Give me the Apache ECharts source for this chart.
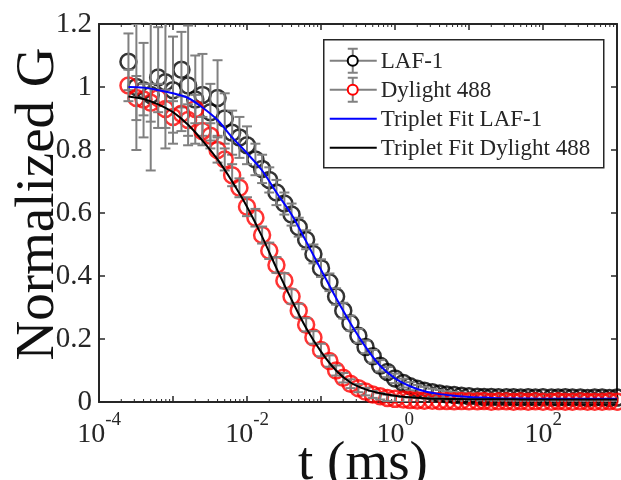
<!DOCTYPE html>
<html><head><meta charset="utf-8">
<script src="https://cdn.jsdelivr.net/npm/echarts@6/dist/echarts.min.js"></script>
<style>html,body{margin:0;padding:0;background:#fff}#c{width:621px;height:480px}</style>
</head><body><div id="c"></div>
<script>
// lag times (ms)
const times = [2.5e-4,3.2e-4,4.0e-4,5.0e-4,6.3e-4,7.9e-4,
 1.0e-3,1.3e-3,1.6e-3,2.0e-3,2.5e-3,3.2e-3,4.0e-3,5.0e-3,6.3e-3,7.9e-3,
 0.010,0.013,0.016,0.020,0.025,0.032,0.040,0.050,0.063,0.079,
 0.10,0.13,0.16,0.20,0.25,0.32,0.40,0.50,0.63,0.79,
 1.0,1.3,1.6,2.0,2.5,3.2,4.0,5.0,6.3,7.9,
 10,13,16,20,25,32,40,50,63,79,
 100,130,160,200,250,320,400,500,630,790,
 1000];
// LAF-1 normalized G and error
const lafG = [1.08,1.00,0.99,0.975,1.03,1.015,
 0.99,1.055,1.005,0.96,0.975,0.92,0.965,0.90,0.855,0.84,
 0.815,0.77,0.74,0.705,0.665,0.63,0.595,0.555,0.515,0.47,
 0.425,0.38,0.335,0.29,0.25,0.21,0.175,0.145,0.115,0.095,
 0.075,0.06,0.05,0.042,0.036,0.031,0.027,0.024,0.022,0.02,
 0.018,0.017,0.016,0.016,0.015,0.015,0.015,0.014,0.015,0.014,
 0.015,0.014,0.014,0.015,0.014,0.014,0.013,0.014,0.014,0.013,
 0.014];
const lafErr = [0.09,0.2,0.15,0.24,0.16,0.21,
 0.17,0.12,0.19,0.14,0.13,0.09,0.12,0.08,0.07,0.065,
 0.06,0.05,0.045,0.04,0.04,0.035,0.035,0.03,0.03,0.03,
 0.028,0.028,0.026,0.025,0.024,0.022,0.02,0.02,0.018,0.016,
 0.015,0.014,0.013,0.012,0.012,0.011,0.011,0.01,0.01,0.01,
 0.01,0.01,0.01,0.01,0.01,0.01,0.01,0.01,0.01,0.01,
 0.01,0.01,0.01,0.01,0.01,0.01,0.01,0.01,0.01,0.01,
 0.01];
// Dylight 488 normalized G and error
const dyG = [1.005,0.965,0.96,0.95,0.965,0.93,
 0.905,0.915,0.895,0.93,0.86,0.845,0.80,0.77,0.72,0.68,
 0.62,0.585,0.53,0.48,0.435,0.385,0.335,0.29,0.245,0.205,
 0.165,0.13,0.10,0.077,0.058,0.044,0.033,0.024,0.018,0.013,
 0.01,0.008,0.006,0.005,0.004,0.004,0.003,0.003,0.002,0.003,
 0.002,0.002,0.003,0.001,0.002,0.002,0.001,0.002,0.001,0.002,
 0.001,0.001,0.002,0.001,0.001,0.002,0.001,0.001,0.001,0.002,
 0.001];
const dyErr = [0.05,0.07,0.05,0.06,0.045,0.06,
 0.05,0.055,0.05,0.045,0.045,0.04,0.04,0.035,0.035,0.03,
 0.03,0.028,0.027,0.026,0.025,0.024,0.023,0.022,0.021,0.02,
 0.02,0.018,0.016,0.015,0.014,0.013,0.012,0.011,0.01,0.01,
 0.01,0.008,0.008,0.008,0.008,0.008,0.008,0.008,0.008,0.008,
 0.008,0.008,0.008,0.008,0.008,0.008,0.008,0.008,0.008,0.008,
 0.008,0.008,0.008,0.008,0.008,0.008,0.008,0.008,0.008,0.008,
 0.008];
// fit curves
const fitT = [2.5e-4,4.0e-4,6.3e-4,1.0e-3,1.6e-3,2.5e-3,4.0e-3,6.3e-3,0.010,0.016,
 0.025,0.040,0.063,0.10,0.16,0.25,0.40,0.63,1.0,1.6,2.5,4.0,6.3,10,16,25,40,63,100,160,250,400,630,1000];
const fitLaf = [1.0,0.998,0.99,0.98,0.965,0.935,0.895,0.84,0.79,0.735,
 0.665,0.595,0.51,0.42,0.33,0.25,0.175,0.115,0.075,0.05,0.034,0.025,0.02,0.016,0.014,0.012,0.011,0.011,0.01,0.01,0.01,0.01,0.01,0.01];
const fitDy = [0.97,0.962,0.945,0.92,0.88,0.83,0.77,0.70,0.62,0.525,
 0.425,0.325,0.235,0.16,0.10,0.062,0.04,0.028,0.02,0.015,0.012,0.01,0.0095,0.009,0.009,0.0085,0.0085,0.008,0.008,0.008,0.008,0.008,0.008,0.008];
const xLabelExps = [-4,-2,0,2];

const FONT = 'Liberation Serif';
const AX = '#262626';
const GRAY = '#808080';
const LFONT = '23px "Liberation Serif"';

const minorTicks = [];
for (let e = -4; e < 3; e++) for (let m = 2; m <= 9; m++) minorTicks.push([m * Math.pow(10, e), 0]);

function errRender(params, api) {
  const t = api.value(0), g = api.value(1), e = api.value(2);
  const lo = api.coord([t, g - e]), hi = api.coord([t, g + e]);
  const cw = 5, st = {stroke: GRAY, lineWidth: 2};
  return {type: 'group', children: [
    {type: 'line', shape: {x1: lo[0], y1: lo[1], x2: hi[0], y2: hi[1]}, style: st},
    {type: 'line', shape: {x1: lo[0] - cw, y1: lo[1], x2: lo[0] + cw, y2: lo[1]}, style: st},
    {type: 'line', shape: {x1: hi[0] - cw, y1: hi[1], x2: hi[0] + cw, y2: hi[1]}, style: st}
  ]};
}
function minorRender(params, api) {
  const t = api.value(0);
  const b = api.coord([t, 0]), tp = api.coord([t, 1.2]);
  const st = {stroke: AX, lineWidth: 1};
  return {type: 'group', children: [
    {type: 'line', shape: {x1: b[0], y1: b[1], x2: b[0], y2: b[1] - 3}, style: st},
    {type: 'line', shape: {x1: tp[0], y1: tp[1], x2: tp[0], y2: tp[1] + 3}, style: st}
  ]};
}
const zip3 = (a, b, c) => a.map((v, i) => [v, b[i], c[i]]);
const zip2 = (a, b) => a.map((v, i) => [v, b[i]]);

const axisCommon = {
  axisLine: {show: true, onZero: false, lineStyle: {color: AX, width: 2}},
  axisTick: {show: true, inside: true, length: 6, lineStyle: {color: AX, width: 1.5}},
  splitLine: {show: false}
};

const chart = echarts.init(document.getElementById('c'));
chart.setOption({
  animation: false,
  backgroundColor: '#fff',
  grid: {left: 99, right: 4, top: 24, bottom: 78, containLabel: false, outerBoundsMode: 'none'},
  xAxis: [
    Object.assign({
      type: 'log', logBase: 10, min: 1e-4, max: 1e3, position: 'bottom',
      name: 't (ms)', nameLocation: 'middle', nameGap: 35, nameMoveOverlap: false,
      nameTextStyle: {fontFamily: FONT, fontSize: 55, color: '#111', padding: [0, 0, 0, 10]},
      axisLabel: {
        margin: 9, color: AX,
        formatter: v => {
          const e = Math.round(Math.log10(v));
          return xLabelExps.indexOf(e) >= 0 ? '{sp| }{b|10}{s|' + e + '}' : '';
        },
        rich: {
          sp: {fontSize: 1, lineHeight: 38},
          b: {fontFamily: FONT, fontSize: 28, lineHeight: 28, verticalAlign: 'bottom', color: AX},
          s: {fontFamily: FONT, fontSize: 19, lineHeight: 19, verticalAlign: 'top', color: AX}
        }
      }
    }, axisCommon),
    Object.assign({
      type: 'log', logBase: 10, min: 1e-4, max: 1e3, position: 'top',
      axisLabel: {show: false}
    }, axisCommon)
  ],
  yAxis: [
    Object.assign({
      type: 'value', min: 0, max: 1.2, interval: 0.2, position: 'left',
      name: 'Normalized G', nameLocation: 'middle', nameGap: 33, nameMoveOverlap: false,
      nameTextStyle: {fontFamily: FONT, fontSize: 55, color: '#111', padding: [0, 0, 0, 18]},
      axisLabel: {margin: 7, fontFamily: FONT, fontSize: 29, color: AX,
        formatter: v => String(+v.toFixed(1))}
    }, axisCommon),
    Object.assign({
      type: 'value', min: 0, max: 1.2, interval: 0.2, position: 'right',
      axisLabel: {show: false}
    }, axisCommon)
  ],
  series: [
    {type: 'custom', name: 'minor', renderItem: minorRender, data: minorTicks, silent: true, clip: false, z: 1},
    {type: 'scatter', name: 'LAF-1', data: zip2(times, lafG), symbol: 'circle', symbolSize: 16,
      itemStyle: {color: 'rgba(0,0,0,0)', borderColor: '#000', borderWidth: 2.5}, z: 2},
    {type: 'custom', name: 'LAF-1 err', renderItem: errRender, data: zip3(times, lafG, lafErr), clip: true, z: 3},
    {type: 'scatter', name: 'Dylight 488', data: zip2(times, dyG), symbol: 'circle', symbolSize: 16,
      itemStyle: {color: 'rgba(0,0,0,0)', borderColor: '#ff0000', borderWidth: 2.5}, z: 4},
    {type: 'custom', name: 'Dylight err', renderItem: errRender, data: zip3(times, dyG, dyErr), clip: true, z: 5},
    {type: 'line', name: 'Triplet Fit LAF-1', data: zip2(fitT, fitLaf), smooth: 0.3, showSymbol: false,
      lineStyle: {color: '#0000ff', width: 2}, z: 6},
    {type: 'line', name: 'Triplet Fit Dylight 488', data: zip2(fitT, fitDy), smooth: 0.3, showSymbol: false,
      lineStyle: {color: '#000', width: 2}, z: 7}
  ],
  graphic: [{
    type: 'group', left: 323, top: 39, z: 100, children: [
      {type: 'rect', shape: {x: 0, y: 0, width: 280, height: 128}, style: {fill: '#fff', stroke: AX, lineWidth: 1.5}},
      // row 1
      {type: 'line', shape: {x1: 6, y1: 21, x2: 53, y2: 21}, style: {stroke: GRAY, lineWidth: 2}},
      {type: 'line', shape: {x1: 29, y1: 9, x2: 29, y2: 33}, style: {stroke: GRAY, lineWidth: 2}},
      {type: 'line', shape: {x1: 24, y1: 9, x2: 34, y2: 9}, style: {stroke: GRAY, lineWidth: 2}},
      {type: 'line', shape: {x1: 24, y1: 33, x2: 34, y2: 33}, style: {stroke: GRAY, lineWidth: 2}},
      {type: 'circle', shape: {cx: 29, cy: 21, r: 5}, style: {fill: '#fff', stroke: '#000', lineWidth: 2}},
      {type: 'text', x: 57, y: 22, style: {text: 'LAF-1', font: LFONT, fill: AX, verticalAlign: 'middle'}},
      // row 2
      {type: 'line', shape: {x1: 6, y1: 50, x2: 53, y2: 50}, style: {stroke: GRAY, lineWidth: 2}},
      {type: 'line', shape: {x1: 29, y1: 38, x2: 29, y2: 62}, style: {stroke: GRAY, lineWidth: 2}},
      {type: 'line', shape: {x1: 24, y1: 38, x2: 34, y2: 38}, style: {stroke: GRAY, lineWidth: 2}},
      {type: 'line', shape: {x1: 24, y1: 62, x2: 34, y2: 62}, style: {stroke: GRAY, lineWidth: 2}},
      {type: 'circle', shape: {cx: 29, cy: 50, r: 5}, style: {fill: '#fff', stroke: '#ff0000', lineWidth: 2}},
      {type: 'text', x: 57, y: 51, style: {text: 'Dylight 488', font: LFONT, fill: AX, verticalAlign: 'middle'}},
      // row 3
      {type: 'line', shape: {x1: 6, y1: 79, x2: 53, y2: 79}, style: {stroke: '#0000ff', lineWidth: 2}},
      {type: 'text', x: 57, y: 80, style: {text: 'Triplet Fit LAF-1', font: LFONT, fill: AX, verticalAlign: 'middle'}},
      // row 4
      {type: 'line', shape: {x1: 6, y1: 108, x2: 53, y2: 108}, style: {stroke: '#000', lineWidth: 2}},
      {type: 'text', x: 57, y: 109, style: {text: 'Triplet Fit Dylight 488', font: LFONT, fill: AX, verticalAlign: 'middle'}}
    ]
  }]
});
</script>
</body></html>
